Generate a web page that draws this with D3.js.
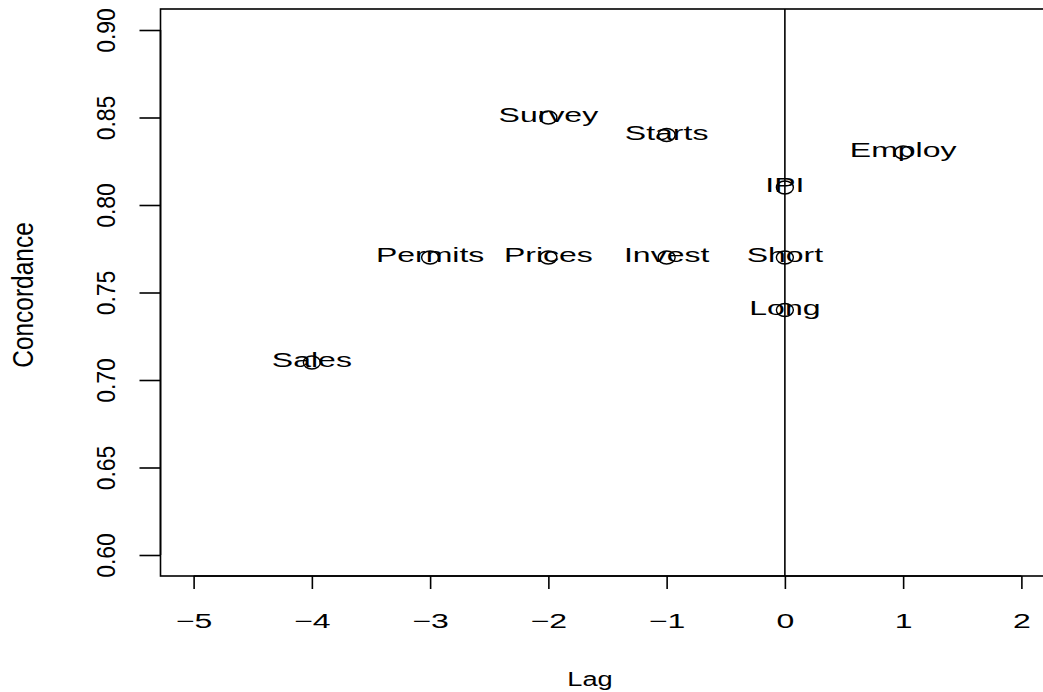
<!DOCTYPE html>
<html>
<head>
<meta charset="utf-8">
<script src="https://d3js.org/d3.v7.min.js"></script>
<style>
  html, body { margin: 0; padding: 0; background: #fff; }
  svg { display: block; }
  text { font-family: "Liberation Sans", Arial, Helvetica, sans-serif; fill: #000; }
</style>
</head>
<body>
<svg id="chart" width="1043" height="692"></svg>
<script>
// Lead/lag of each indicator against the reference cycle, with its concordance
const indicators = ["Sales", "Permits", "Prices", "Invest", "Survey", "Starts", "Employ", "IPI", "Short", "Long"];
const lags = [-4, -3, -2, -1, -2, -1, 1, 0, 0, 0];
const concordance = [0.71, 0.77, 0.77, 0.77, 0.85, 0.84, 0.83, 0.81, 0.77, 0.74];

const xTicks = [-5, -4, -3, -2, -1, 0, 1, 2];
const yTicks = [0.60, 0.65, 0.70, 0.75, 0.80, 0.85, 0.90];

const svg = d3.select("#chart");

// Axis limits padded by 4% on each side, like R's default "r" style
const xLim = [-5, 2], yLim = [0.6, 0.9];
const xPad = (xLim[1] - xLim[0]) * 0.04, yPad = (yLim[1] - yLim[0]) * 0.04;
const plot = { left: 160.5, right: 1054.5, top: 9, bottom: 576 };

const x = d3.scaleLinear().domain([xLim[0] - xPad, xLim[1] + xPad]).range([plot.left, plot.right]);
const y = d3.scaleLinear().domain([yLim[0] - yPad, yLim[1] + yPad]).range([plot.bottom, plot.top]);

const sx = 1.6; // horizontal glyph stretch of the device

// Box around the plotting region
svg.append("rect")
  .attr("x", plot.left).attr("y", plot.top)
  .attr("width", plot.right - plot.left).attr("height", plot.bottom - plot.top)
  .attr("fill", "none").attr("stroke", "#000").attr("stroke-width", 1.6);

// Bottom axis
const fmtX = d => (d < 0 ? "\u2212" + Math.abs(d) : String(d));
const xAxis = d3.axisBottom(x).tickValues(xTicks).tickSize(13).tickFormat(fmtX);
const gx = svg.append("g").attr("transform", `translate(0,${plot.bottom})`).call(xAxis);
gx.select(".domain").attr("d", `M${x(xTicks[0])},0H${x(xTicks[xTicks.length - 1])}`)
  .attr("stroke", "#000").attr("stroke-width", 1.6);
gx.selectAll(".tick line").attr("stroke", "#000").attr("stroke-width", 1.6);
gx.selectAll(".tick text")
  .attr("y", 0).attr("dy", null)
  .attr("font-size", 20)
  .attr("text-anchor", "middle")
  .attr("transform", `translate(0,52) scale(${sx},1)`);

// Left axis with rotated labels
const yAxis = d3.axisLeft(y).tickValues(yTicks).tickSize(21).tickFormat(d3.format(".2f"));
const gy = svg.append("g").attr("transform", `translate(${plot.left},0)`).call(yAxis);
gy.select(".domain").attr("d", `M0,${y(yTicks[0])}V${y(yTicks[yTicks.length - 1])}`)
  .attr("stroke", "#000").attr("stroke-width", 1.6);
gy.selectAll(".tick line").attr("stroke", "#000").attr("stroke-width", 1.6);
gy.selectAll(".tick text")
  .attr("x", 0).attr("dy", null)
  .attr("font-size", 23)
  .attr("text-anchor", "middle")
  .attr("transform", "translate(-45.5,0) rotate(-90) scale(1,1.1)");

// Reference line at zero lag
svg.append("line")
  .attr("x1", x(0)).attr("x2", x(0))
  .attr("y1", plot.top).attr("y2", plot.bottom)
  .attr("stroke", "#000").attr("stroke-width", 1.6);

// Points (open circles) and their labels
const pts = indicators.map((name, i) => ({ name, lag: lags[i], conc: concordance[i] }));

svg.append("g").selectAll("ellipse").data(pts).join("ellipse")
  .attr("cx", d => x(d.lag)).attr("cy", d => y(d.conc))
  .attr("rx", 8.5).attr("ry", 6.5)
  .attr("fill", "none").attr("stroke", "#000").attr("stroke-width", 1.4);

svg.append("g").selectAll("text").data(pts).join("text")
  .attr("transform", d => `translate(${x(d.lag)},${y(d.conc) + 4.5}) scale(${sx},1)`)
  .attr("text-anchor", "middle")
  .attr("font-size", 20)
  .text(d => d.name);

// Axis titles
svg.append("text")
  .attr("transform", `translate(590,686) scale(${sx * 0.85},1)`)
  .attr("text-anchor", "middle").attr("font-size", 20)
  .text("Lag");

svg.append("text")
  .attr("transform", "translate(33,295) rotate(-90) scale(1.02,1.2)")
  .attr("text-anchor", "middle").attr("font-size", 24)
  .text("Concordance");
</script>
</body>
</html>
